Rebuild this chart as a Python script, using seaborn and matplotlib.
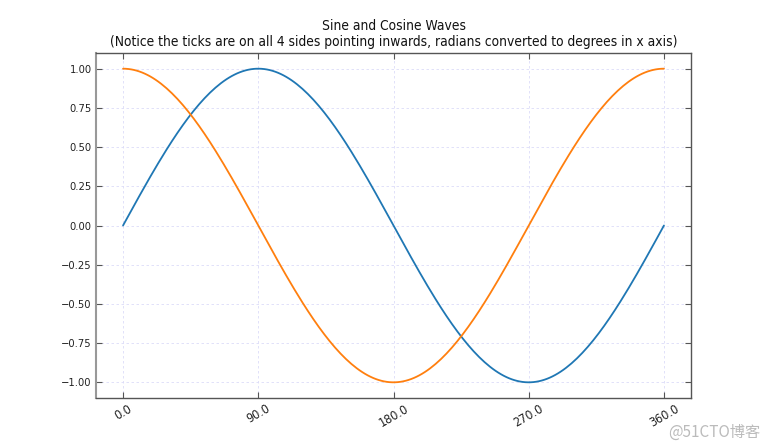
import numpy as np
import matplotlib
matplotlib.use("Agg")
import matplotlib.pyplot as plt
import seaborn as sns
import pandas as pd

# data: one full period of sine and cosine, x in radians
x_rad = np.linspace(0, 2 * np.pi, 200)
sine_vals = np.sin(x_rad)
cosine_vals = np.cos(x_rad)
xtick_rad = [0, np.pi / 2, np.pi, 3 * np.pi / 2, 2 * np.pi]
xtick_labels = ["0.0", "90.0", "180.0", "270.0", "360.0"]
ytick_vals = [-1.0, -0.75, -0.5, -0.25, 0.0, 0.25, 0.5, 0.75, 1.0]

sns.set_theme(style="white")
plt.rcParams['font.family'] = ['DejaVu Sans', 'Noto Sans CJK SC']
plt.rcParams['font.stretch'] = 'condensed'

df = pd.DataFrame({"x": np.concatenate([x_rad, x_rad]),
                   "y": np.concatenate([sine_vals, cosine_vals]),
                   "s": ["sin"] * len(x_rad) + ["cos"] * len(x_rad)})

fig = plt.figure(figsize=(7.68, 4.48), dpi=100)
ax = fig.add_axes([96 / 768, 1 - 398 / 448, (691 - 96) / 768, (398 - 53) / 448])
sns.lineplot(data=df, x="x", y="y", hue="s", palette=["#1f77b4", "#ff7f0e"],
             ax=ax, legend=False, linewidth=1.3)

ax.set_xticks(xtick_rad)
ax.set_xticklabels(xtick_labels, rotation=30, fontsize=9, fontstretch='condensed')
ax.set_yticks(ytick_vals)
ax.set_yticklabels([f"{v:.2f}".replace("-", "\u2212") for v in ytick_vals], fontsize=8,
                   fontstretch='condensed')
ax.set_xlabel("")
ax.set_ylabel("")
ax.tick_params(direction="in", top=True, right=True, bottom=True, left=True,
               length=4, width=0.8, color="#555555", labelcolor="#222222")
ax.tick_params(axis="y", pad=3)
ax.tick_params(axis="x", pad=3)
ax.margins(x=0.05, y=0.05)
ax.grid(True, linestyle=(0, (3, 3)), color="#dcdcf8", linewidth=0.6)
for sp in ax.spines.values():
    sp.set_color("#555555")
    sp.set_linewidth(1.0)
ax.spines["left"].set_color("#999999")
ax.spines["left"].set_linewidth(1.5)

ax.set_title("Sine and Cosine Waves\n(Notice the ticks are on all 4 sides pointing inwards, radians converted to degrees in x axis)",
             fontsize=9.9, color="#111111", pad=5, fontstretch='condensed')

fig.text(0.99, 0.015, "@51CTO博客", ha="right", va="bottom", fontsize=11,
         color="#bbbbbb", family=['Noto Sans CJK SC', 'DejaVu Sans'])

fig.savefig("out.png", dpi=100)
